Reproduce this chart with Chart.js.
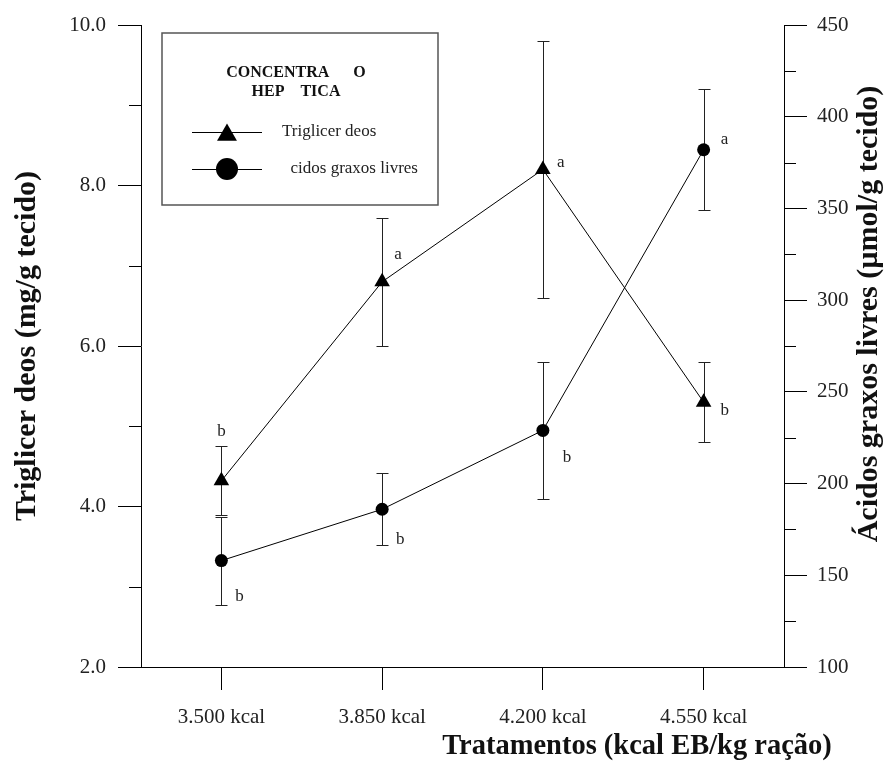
<!DOCTYPE html>
<html><head><meta charset="utf-8">
<script src="https://cdn.jsdelivr.net/npm/chart.js@4"></script>
<style>html,body{margin:0;padding:0;background:#fff}#wrap{width:895px;height:774px}</style>
</head><body><div id="wrap"><canvas id="c" width="895" height="774"></canvas></div>
<script>
// ---- data ----
const categories = ['3.500 kcal', '3.850 kcal', '4.200 kcal', '4.550 kcal'];
const trigMeans = [4.32, 6.8, 8.2, 5.3];
const trigErrors = [0.43, 0.8, 1.6, 0.5];
const trigLetters = ['b', 'a', 'a', 'b'];
const aglMeans = [158, 186, 229, 382];
const aglErrors = [24, 19.5, 37.5, 33];
const aglLetters = ['b', 'b', 'b', 'a'];
const leftTickValues = [2, 4, 6, 8, 10];
const leftMinorValues = [3, 5, 7, 9];
const rightTickValues = [100, 150, 200, 250, 300, 350, 400, 450];
const rightMinorValues = [125, 175, 225, 275, 325, 375, 425];
const seriesNames = ['Triglicer deos', '  cidos graxos livres'];
const legendTitle = ['CONCENTRA      O', 'HEP    TICA'];
const yLeftTitle = 'Triglicer deos (mg/g tecido)';
const yRightTitle = 'Ácidos graxos livres (µmol/g tecido)';
const xTitle = 'Tratamentos (kcal EB/kg ração)';

const SERIF = '"Liberation Serif", "Times New Roman", serif';

// letter label offsets relative to the marker (pixels)
const letterPlacement = [
  [{dx: 0, dy: null}, {dx: 16, dy: -27}, {dx: 18, dy: -7}, {dx: 21, dy: 8}],
  [{dx: 18, dy: 36}, {dx: 18, dy: 30}, {dx: 24, dy: 27}, {dx: 21, dy: -10}]
];

const errorBarsPlugin = {
  id: 'errorBars',
  beforeDatasetsDraw(chart) {
    const ctx = chart.ctx;
    const sets = [[trigMeans, trigErrors, 'y'], [aglMeans, aglErrors, 'y2']];
    ctx.save();
    ctx.strokeStyle = '#222';
    ctx.lineWidth = 1;
    sets.forEach(([means, errs, axis], di) => {
      const meta = chart.getDatasetMeta(di);
      const sc = chart.scales[axis];
      means.forEach((m, i) => {
        const x = Math.round(meta.data[i].x) + 0.5;
        const yt = Math.round(sc.getPixelForValue(m + errs[i])) + 0.5;
        const yb = Math.round(sc.getPixelForValue(m - errs[i])) + 0.5;
        ctx.beginPath();
        ctx.moveTo(x, yt); ctx.lineTo(x, yb);
        ctx.moveTo(x - 6, yt); ctx.lineTo(x + 6, yt);
        ctx.moveTo(x - 6, yb); ctx.lineTo(x + 6, yb);
        ctx.stroke();
      });
    });
    ctx.restore();
  },
  afterDatasetsDraw(chart) {
    const ctx = chart.ctx;
    const sets = [[trigMeans, trigErrors, trigLetters, 'y'], [aglMeans, aglErrors, aglLetters, 'y2']];
    ctx.save();
    ctx.fillStyle = '#222';
    ctx.font = '17px ' + SERIF;
    ctx.textAlign = 'center';
    ctx.textBaseline = 'middle';
    sets.forEach(([means, errs, letters, axis], di) => {
      const meta = chart.getDatasetMeta(di);
      const sc = chart.scales[axis];
      letters.forEach((L, i) => {
        const p = meta.data[i];
        const pl = letterPlacement[di][i];
        let y;
        if (pl.dy === null) y = sc.getPixelForValue(means[i] + errs[i]) - 15;
        else y = p.y + pl.dy;
        ctx.fillText(L, p.x + pl.dx, y);
      });
    });
    ctx.restore();
  }
};

const decorPlugin = {
  id: 'decor',
  afterDraw(chart) {
    const ctx = chart.ctx;
    const yl = chart.scales.y, yr = chart.scales.y2;
    ctx.save();
    // minor ticks
    ctx.strokeStyle = '#000';
    ctx.lineWidth = 1;
    ctx.beginPath();
    leftMinorValues.forEach(v => {
      const y = Math.round(yl.getPixelForValue(v)) + 0.5;
      ctx.moveTo(yl.right, y); ctx.lineTo(yl.right - 12, y);
    });
    rightMinorValues.forEach(v => {
      const y = Math.round(yr.getPixelForValue(v)) + 0.5;
      ctx.moveTo(yr.left, y); ctx.lineTo(yr.left + 12, y);
    });
    ctx.stroke();

    // right axis title (reads bottom-to-top)
    ctx.save();
    ctx.translate(869, 314);
    ctx.rotate(-Math.PI / 2);
    ctx.font = 'bold 30px ' + SERIF;
    ctx.fillStyle = '#111';
    ctx.textAlign = 'center';
    ctx.textBaseline = 'middle';
    ctx.fillText(yRightTitle, 0, 0);
    ctx.restore();

    // x axis title
    ctx.font = 'bold 28.5px ' + SERIF;
    ctx.fillStyle = '#111';
    ctx.textAlign = 'center';
    ctx.textBaseline = 'alphabetic';
    ctx.fillText(xTitle, 637, 754);

    // legend box
    const bx = 162, by = 33, bw = 276, bh = 172;
    ctx.strokeStyle = '#555';
    ctx.lineWidth = 1.5;
    ctx.strokeRect(bx, by, bw, bh);
    ctx.fillStyle = '#111';
    ctx.font = 'bold 16px ' + SERIF;
    ctx.textAlign = 'center';
    ctx.textBaseline = 'middle';
    ctx.fillText(legendTitle[0], bx + bw / 2 - 4, by + 40);
    ctx.fillText(legendTitle[1], bx + bw / 2 - 4, by + 59);
    const rows = [by + 99, by + 136];
    const styles = [{pointStyle: 'triangle', radius: 11.5}, {pointStyle: 'circle', radius: 11}];
    rows.forEach((ry, k) => {
      ctx.strokeStyle = '#000';
      ctx.lineWidth = 1;
      ctx.beginPath();
      ctx.moveTo(bx + 30, ry + 0.5); ctx.lineTo(bx + 100, ry + 0.5);
      ctx.stroke();
      ctx.fillStyle = '#000';
      Chart.helpers.drawPoint(ctx, {pointStyle: styles[k].pointStyle, radius: styles[k].radius, rotation: 0, borderWidth: 0}, bx + 65, k === 0 ? ry + 3 : ry);
      ctx.fillStyle = '#222';
      ctx.font = '17px ' + SERIF;
      ctx.textAlign = 'left';
      ctx.fillText(seriesNames[k], bx + 120, ry);
    });
    ctx.restore();
  }
};

const tickFont = {family: SERIF, size: 21};
new Chart(document.getElementById('c'), {
  type: 'line',
  data: {
    labels: categories,
    datasets: [
      {label: seriesNames[0], data: trigMeans, yAxisID: 'y', borderColor: '#000', borderWidth: 1,
       pointStyle: 'triangle', pointRadius: 9, pointBackgroundColor: '#000', pointBorderColor: '#000',
       pointBorderWidth: 0, tension: 0, fill: false},
      {label: seriesNames[1], data: aglMeans, yAxisID: 'y2', borderColor: '#000', borderWidth: 1,
       pointStyle: 'circle', pointRadius: 6.5, pointBackgroundColor: '#000', pointBorderColor: '#000',
       pointBorderWidth: 0, tension: 0, fill: false}
    ]
  },
  options: {
    responsive: false, animation: false, devicePixelRatio: 1,
    layout: {padding: {top: 25, left: 0, right: 0, bottom: 0}},
    plugins: {legend: {display: false}, tooltip: {enabled: false}},
    scales: {
      x: {
        type: 'category', offset: true,
        grid: {display: true, drawOnChartArea: false, drawTicks: true, tickLength: 23, color: '#000', tickColor: '#000', offset: false},
        border: {display: true, color: '#000', width: 1},
        ticks: {font: tickFont, color: '#222', padding: 15, maxRotation: 0, autoSkip: false},
        afterFit(s) { s.height = 107; }
      },
      y: {
        position: 'left', min: 2, max: 10,
        afterBuildTicks(s) { s.ticks = leftTickValues.map(v => ({value: v})); },
        ticks: {font: tickFont, color: '#222', padding: 12, callback: v => Number(v).toFixed(1)},
        grid: {display: true, drawOnChartArea: false, drawTicks: true, tickLength: 23, color: '#000', tickColor: '#000'},
        border: {display: true, color: '#000', width: 1},
        title: {display: true, text: yLeftTitle, color: '#111', font: {family: SERIF, size: 30, weight: 'bold'}, padding: {top: 9, bottom: 0}},
        afterFit(s) { s.width = 141; }
      },
      y2: {
        position: 'right', min: 100, max: 450,
        afterBuildTicks(s) { s.ticks = rightTickValues.map(v => ({value: v})); },
        ticks: {font: tickFont, color: '#222', padding: 10, callback: v => String(v)},
        grid: {display: true, drawOnChartArea: false, drawTicks: true, tickLength: 23, color: '#000', tickColor: '#000'},
        border: {display: true, color: '#000', width: 1},
        afterFit(s) { s.width = 111; }
      }
    }
  },
  plugins: [errorBarsPlugin, decorPlugin]
});
</script>
</body></html>
